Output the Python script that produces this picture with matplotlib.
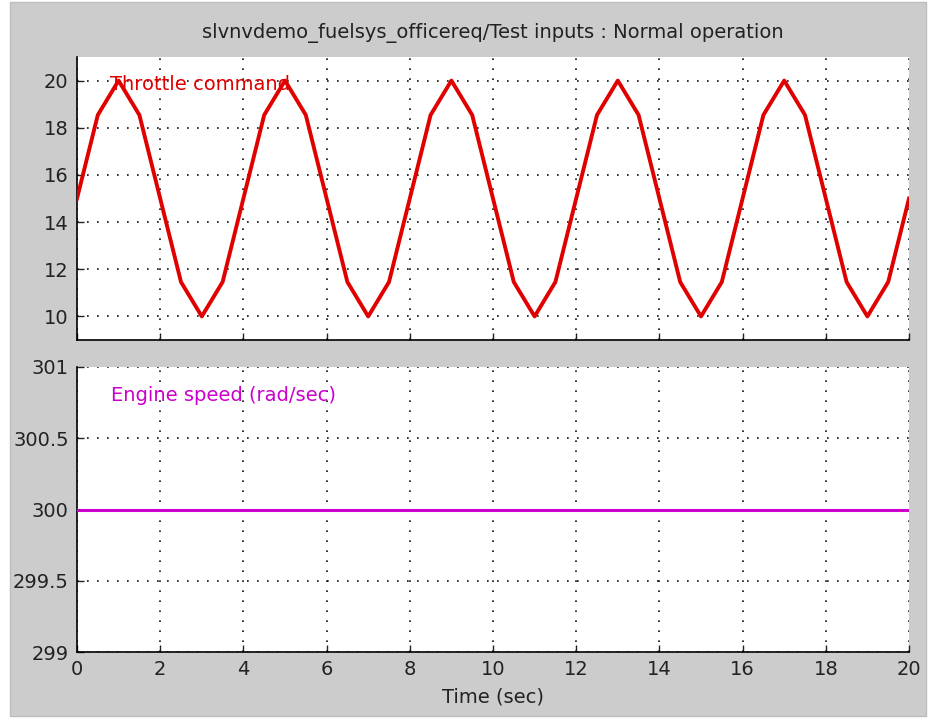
import matplotlib.pyplot as plt
from matplotlib.patches import Rectangle

# Test input signals, sampled every 0.5 s
time_s = [i * 0.5 for i in range(41)]
throttle_cycle = [15.0, 18.54, 20.0, 18.54, 15.0, 11.46, 10.0, 11.46]
throttle = (throttle_cycle * 5)[:40] + [15.0]
engine_speed = [300.0] * 41

x_ticks = [0, 2, 4, 6, 8, 10, 12, 14, 16, 18, 20]
throttle_ticks = [10, 12, 14, 16, 18, 20]
speed_ticks = [299, 299.5, 300, 300.5, 301]
speed_tick_labels = ['299', '299.5', '300', '300.5', '301']

plt.rcParams['font.family'] = ['DejaVu Sans']
plt.rcParams['font.size'] = 14

fig = plt.figure(figsize=(9.38, 7.26), dpi=100)
fig.patch.set_facecolor('white')
# gray panel behind the axes, like the Simulink scope window
fig.patches.append(Rectangle((10 / 938, 10 / 726), 916 / 938, 714 / 726,
                             transform=fig.transFigure, facecolor='#cccccc',
                             edgecolor='#bdbdbd', linewidth=1, zorder=-1))

ax1 = fig.add_axes([77 / 938, 1 - 340 / 726, 832 / 938, 283 / 726])
ax2 = fig.add_axes([77 / 938, 1 - 652 / 726, 832 / 938, 285 / 726])


def style_axis(ax):
    ax.set_facecolor('white')
    ax.spines['top'].set_visible(False)
    ax.spines['right'].set_visible(False)
    ax.spines['left'].set_linewidth(1.2)
    ax.spines['bottom'].set_linewidth(1.2)
    ax.set_xlim(0, 20)
    ax.set_xticks(x_ticks)
    ax.tick_params(direction='in', length=5, width=1, colors='#222222', pad=6)
    ax.grid(True, color='#111111', linestyle=(0, (1, 5)), linewidth=1.2)


style_axis(ax1)
ax1.plot(time_s, throttle, color='#e00000', linewidth=2.8, zorder=3)
ax1.set_ylim(9, 21)
ax1.set_yticks(throttle_ticks)
ax1.set_xticklabels([])
ax1.text(0.8, 19.85, 'Throttle command', color='#e00000', fontsize=14,
         va='center', ha='left', zorder=4)
ax1.set_title('slvnvdemo_fuelsys_officereq/Test inputs : Normal operation',
              fontsize=14, color='#222222', pad=14)

style_axis(ax2)
ax2.plot(time_s, engine_speed, color='#cc00cc', linewidth=2.2, zorder=3)
ax2.set_ylim(299, 301)
ax2.set_yticks(speed_ticks)
ax2.set_yticklabels(speed_tick_labels)
ax2.text(0.82, 300.8, 'Engine speed (rad/sec)', color='#cc00cc', fontsize=14,
         va='center', ha='left')
ax2.set_xlabel('Time (sec)', fontsize=14, color='#222222', labelpad=6)

fig.savefig('out.png', dpi=100)
